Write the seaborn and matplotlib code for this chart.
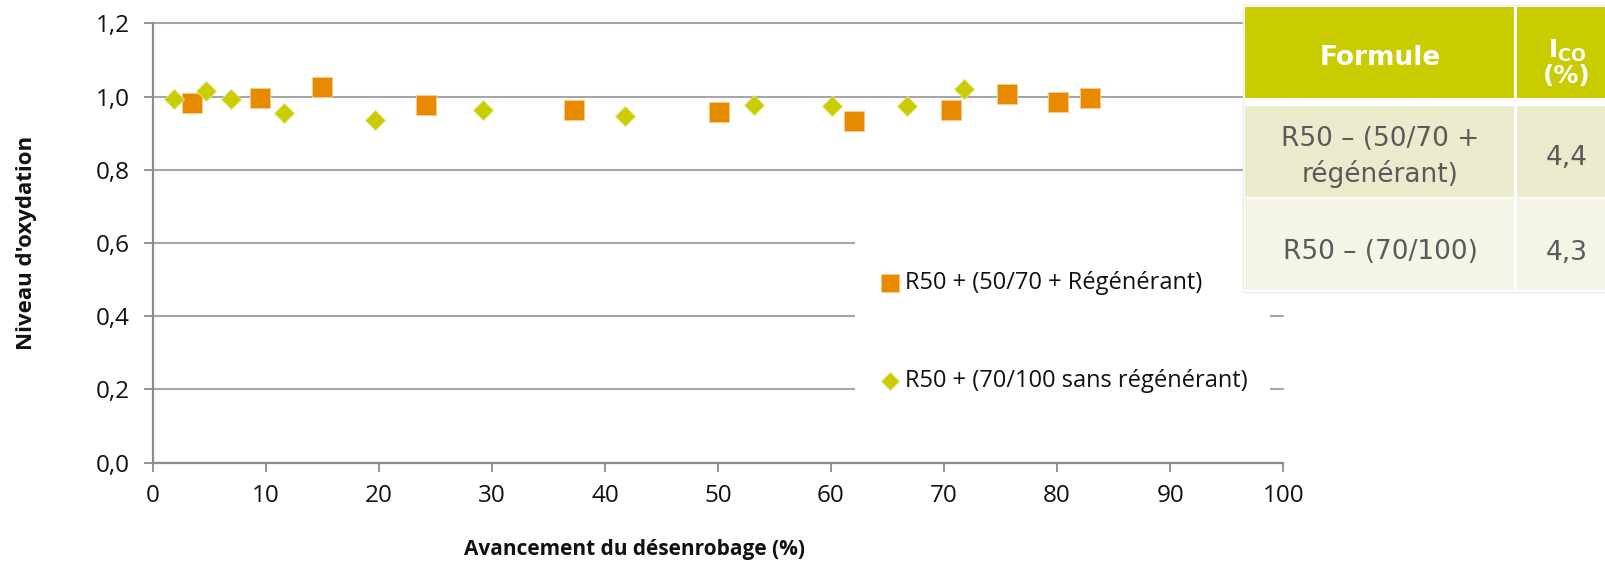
import matplotlib
matplotlib.use("Agg")
import matplotlib.pyplot as plt
from matplotlib.patches import Rectangle
from matplotlib.ticker import FuncFormatter, MultipleLocator
import seaborn as sns
import pandas as pd

# ---------------- data ----------------
series_names = ["R50 + (50/70 + Régénérant)", "R50 + (70/100 sans régénérant)"]

sq_x = [3.5, 9.5, 15.0, 24.2, 37.3, 50.1, 62.0, 70.6, 75.6, 80.1, 82.9]
sq_y = [0.983, 0.996, 1.025, 0.976, 0.962, 0.958, 0.934, 0.964, 1.008, 0.984, 0.996]

di_x = [1.9, 4.7, 6.9, 11.6, 19.7, 29.2, 41.8, 53.2, 60.1, 66.7, 71.8]
di_y = [0.994, 1.016, 0.993, 0.955, 0.935, 0.964, 0.946, 0.976, 0.973, 0.975, 1.020]

x_label = "Avancement du désenrobage (%)"
y_label = "Niveau d'oxydation"

table_header = ["Formule", "$\\mathregular{I_{CO}}$\n(%)"]
table_formules = ["R50 – (50/70 +\nrégénérant)", "R50 – (70/100)"]
table_ico = ["4,4", "4,3"]

# ---------------- style ----------------
sns.set_theme(style="white")
plt.rcParams["font.family"] = ["Open Sans", "DejaVu Sans"]

ORANGE = "#E88A00"
GREEN = "#C9CC00"
GRID = "#A6A6A6"
AXC = "#8C8C8C"

W, H = 1606, 561
fig = plt.figure(figsize=(W / 100, H / 100), dpi=100)

x0, x1 = 152.7, 1283.2
ytop, ybot = 23.3, 462.7
ax = fig.add_axes([x0 / W, (H - ybot) / H, (x1 - x0) / W, (ybot - ytop) / H])

df_sq = pd.DataFrame({"x": sq_x, "y": sq_y})
df_di = pd.DataFrame({"x": di_x, "y": di_y})

sns.scatterplot(data=df_sq, x="x", y="y", marker="s", s=207, color=ORANGE,
                edgecolor="#F6C98E", linewidth=0.7, ax=ax, label=series_names[0],
                zorder=3, clip_on=False)
sns.scatterplot(data=df_di, x="x", y="y", marker="D", s=104, color=GREEN,
                edgecolor="#E2E47A", linewidth=0.7, ax=ax, label=series_names[1],
                zorder=3, clip_on=False)

ax.set_xlim(0, 100)
ax.set_ylim(0, 1.2)
ax.xaxis.set_major_locator(MultipleLocator(10))
ax.yaxis.set_major_locator(MultipleLocator(0.2))
ax.yaxis.set_major_formatter(FuncFormatter(lambda v, p: f"{v:.1f}".replace(".", ",")))
ax.xaxis.set_major_formatter(FuncFormatter(lambda v, p: f"{v:.0f}"))

ax.yaxis.grid(True, color=GRID, linewidth=1.5, clip_on=False)
ax.xaxis.grid(False)
ax.set_axisbelow(True)
for side in ["top", "right"]:
    ax.spines[side].set_visible(False)
for side in ["left", "bottom"]:
    ax.spines[side].set_color(AXC)
    ax.spines[side].set_linewidth(1.6)

ax.tick_params(axis="both", which="major", direction="out", length=6.5, width=1.3,
               color=AXC, labelsize=17.5, labelcolor="#111111")
ax.tick_params(axis="y", pad=10)
ax.tick_params(axis="x", pad=9)
ax.tick_params(left=True, bottom=True)

ax.set_xlabel(x_label, fontsize=15, fontweight="bold", color="#111111")
ax.set_ylabel(y_label, fontsize=16, fontweight="bold", color="#111111")
ax.xaxis.set_label_coords((635 - x0) / (x1 - x0), -(539 - ybot) / (ybot - ytop))
ax.yaxis.set_label_coords((37 - x0) / (x1 - x0), 0.5)

handles, labels = ax.get_legend_handles_labels()
if ax.get_legend():
    ax.get_legend().remove()


def fx(px):
    return px / W


def fy(py):
    return (H - py) / H


# white area behind legend (covers gridlines)
fig.patches.append(Rectangle((fx(855), fy(455)), fx(1270) - fx(855), (455 - 175) / H,
                             transform=fig.transFigure, facecolor="white",
                             edgecolor="none", zorder=1))

leg = fig.legend(handles, labels, loc="upper left",
                 bbox_to_anchor=(fx(878), fy(271)), frameon=False,
                 fontsize=17, handlelength=1.0, handletextpad=0.15,
                 labelspacing=3.15, borderpad=0, borderaxespad=0,
                 markerscale=0.9)
for t in leg.get_texts():
    t.set_color("#111111")

# ---------------- table ----------------
TBL_FONT = ["DejaVu Sans"]
HEAD = "#C9CC00"
ROW1 = "#E9EBCC"
ROW2 = "#F4F5E7"
cl, cm, cr = 1245, 1516, 1610
rows = [(7.3, 98.3, HEAD), (106, 196.5, ROW1), (197.5, 290, ROW2)]

fig.patches.append(Rectangle((fx(cl - 2), fy(292)), fx(cr) - fx(cl - 2), (292 - 5) / H,
                             transform=fig.transFigure, facecolor="white",
                             edgecolor="#ECECEC", linewidth=1, zorder=2))
for (ta, tb, col) in rows:
    fig.patches.append(Rectangle((fx(cl), fy(tb)), fx(cm - 1.5) - fx(cl), (tb - ta) / H,
                                 transform=fig.transFigure, facecolor=col,
                                 edgecolor="none", zorder=2))
    fig.patches.append(Rectangle((fx(cm + 1.5), fy(tb)), fx(cr) - fx(cm + 1.5), (tb - ta) / H,
                                 transform=fig.transFigure, facecolor=col,
                                 edgecolor="none", zorder=2))

c1x = (cl + cm) / 2
c2x = 1567
fig.text(fx(c1x), fy(58), table_header[0], ha="center", va="center",
         fontsize=19, fontweight="bold", color="white", family=TBL_FONT, zorder=3)
fig.text(fx(c2x), fy(63), table_header[1], ha="center", va="center",
         fontsize=18, fontweight="bold", color="white", family=TBL_FONT, zorder=3,
         linespacing=1.0)

row_centers = [157, 252]
for rc, f, v in zip(row_centers, table_formules, table_ico):
    fig.text(fx(c1x), fy(rc), f, ha="center", va="center", fontsize=19,
             color="#5A5A5A", family=TBL_FONT, zorder=3, linespacing=1.32)
    fig.text(fx(c2x), fy(rc + 1), v, ha="center", va="center", fontsize=19,
             color="#5A5A5A", family=TBL_FONT, zorder=3)

fig.savefig("out.png", dpi=100)
